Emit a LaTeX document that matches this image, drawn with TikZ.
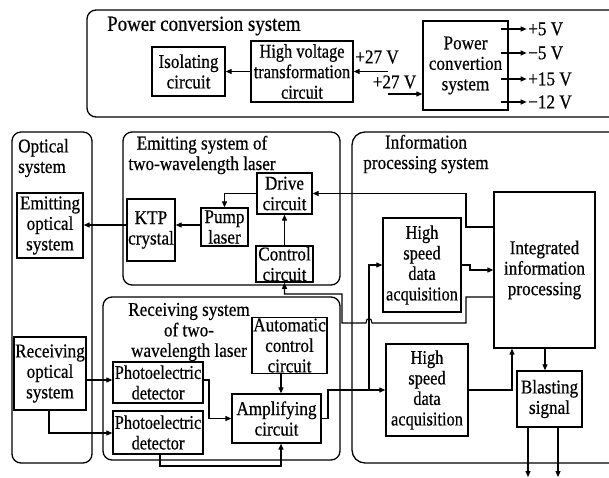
\documentclass[tikz,border=0pt]{standalone}
\usepackage{fontspec}
\setmainfont{Liberation Serif}[FakeStretch=0.88,FakeBold=0.5]
\newfontfamily\narrowfont{Liberation Serif}[FakeStretch=0.84,FakeBold=0.5]
\usetikzlibrary{arrows.meta}
\begin{document}
\begin{tikzpicture}[x=1pt,y=-1pt,
  every node/.style={font=\fontsize{19.5}{20.5}\selectfont},
  blk/.style={draw,line width=1.3pt,align=center,inner sep=1pt,rectangle},
  narrow/.style={font=\narrowfont\fontsize{19.5}{20.5}\selectfont},
  grp/.style={draw,line width=1.3pt,rounded corners=9pt},
  ttl/.style={align=center,inner sep=0pt,font=\fontsize{19.5}{20.5}\selectfont},
  lbl/.style={inner sep=0pt},
  con/.style={line width=1.1pt,-{Triangle[length=6pt,width=5pt]}},
  ln/.style={line width=1.1pt}
]
\clip (0,0) rectangle (609,478);
\fill[white] (0,0) rectangle (609,478);

% ---------------- power conversion system ----------------
\draw[grp] (87,10) rectangle (640,117);
\node[ttl,anchor=west,font=\fontsize{21.5}{22}\selectfont] (pcstitle) at (107,26) {Power conversion system};
\node[blk,minimum width=73pt,minimum height=49pt] (iso) at (188.5,71.5) {Isolating\\circuit};
\node[blk,narrow,minimum width=102pt,minimum height=61pt] (hv) at (302,71.5) {High voltage\\transformation\\circuit};
\node[blk,minimum width=85pt,minimum height=89pt] (pwr) at (465.5,65.5) {Power\\convertion\\system};
\node[lbl] (v27a) at (377,57) {+27 V};
\node[lbl] (v27b) at (394.5,82) {+27 V};
\coordinate (in1) at (388,71.5);
\coordinate (in2) at (388,94);
\draw[con] (hv.west) -- (iso.east);
\draw[con] (in1) -- (hv.east);
\draw[con] (in2) -- (pwr.west |- in2);
\foreach \yy/\t/\n in {29/+5 V/a, 53/−5 V/b, 79/+15 V/c, 102/−12 V/d} {
  \coordinate (o\n) at (0,\yy);
  \draw[con,shorten <=-8pt] (pwr.east |- o\n) -- ++(18,0)
    node[lbl,anchor=west,inner sep=1pt] (out\n) {\t};
}

% ---------------- optical system ----------------
\draw[grp] (12,132) rectangle (92,463);
\node[ttl,align=left,anchor=west] (opttitle) at (18,158) {Optical\\system};
\node[blk,minimum width=66pt,minimum height=65pt] (eopt) at (50,225.5) {Emitting\\optical\\system};
\node[blk,minimum width=72pt,minimum height=73pt] (ropt) at (50,373.5) {Receiving\\optical\\system};

% ---------------- emitting system ----------------
\draw[grp] (123,132) rectangle (340,285);
\node[ttl] (emtitle) at (202,155) {Emitting system of\\two-wavelength laser};
\node[blk,minimum width=48pt,minimum height=62pt] (ktp) at (151,230) {KTP\\crystal};
\node[blk,minimum width=47pt,minimum height=38pt] (pump) at (224.5,227) {Pump\\laser};
\node[blk,minimum width=55pt,minimum height=41pt] (drive) at (284.5,193.5) {Drive\\circuit};
\node[blk,minimum width=57pt,minimum height=36pt] (ctrl) at (284.5,264) {Control\\circuit};

% ---------------- receiving system ----------------
\draw[grp] (103,297) rectangle (340,460);
\node[ttl] (rctitle) at (189,332) {Receiving system\\of two-\\wavelength laser};
\node[blk,minimum width=75pt,minimum height=55pt] (auto) at (289.5,345.5) {Automatic\\control\\circuit};
\node[blk,narrow,minimum width=90pt,minimum height=41pt] (pd1) at (158,382.5) {Photoelectric\\detector};
\node[blk,narrow,minimum width=90pt,minimum height=43pt] (pd2) at (158,432.5) {Photoelectric\\detector};
\node[blk,minimum width=89pt,minimum height=49pt] (amp) at (276.5,418.5) {Amplifying\\circuit};

% ---------------- information processing system ----------------
\draw[grp,rounded corners=13pt] (352,132) rectangle (640,463);
\node[ttl] (iptitle) at (426,154) {Information\\processing system};
\node[blk,minimum width=101pt,minimum height=156pt] (integ) at (544.5,270) {Integrated\\information\\processing};
\node[blk,narrow,minimum width=78pt,minimum height=94pt] (hs1) at (422,265) {High\\speed\\data\\acquisition};
\node[blk,narrow,minimum width=82pt,minimum height=92pt] (hs2) at (427,390) {High\\speed\\data\\acquisition};
\node[blk,minimum width=65pt,minimum height=56pt] (blast) at (549.5,399) {Blasting\\signal};

% ---------------- connectors ----------------
% drive line from the integrated processor
\coordinate (d1) at (466,227);
\coordinate (d2) at (466,193.5);
\draw[con] (integ.west |- d1) -- (d1) -- (d2) -- (drive.east);
\draw[con] (drive.west) -| (pump.north);
\draw[con] (ctrl.north) -- (ctrl.north |- drive.south);
\coordinate (p1) at (0,225);
\draw[con] (pump.west |- p1) -- (ktp.east |- p1);
\draw[con] (ktp.west |- p1) -- (eopt.east |- p1);

% control line with a hop over the acquisition feed
\coordinate (k1) at (466,297);
\coordinate (k2) at (466,323);
\coordinate (k3) at (372,323);
\coordinate (k4) at (366,323);
\coordinate (k5) at (342,323);
\coordinate (k6) at (342,294);
\coordinate (k7) at (284.5,294);
\draw[con] (integ.west |- k1) -- (k1) -- (k2) -- (k3)
  .. controls (372,317) and (366,317) .. (k4) -- (k5) -- (k6) -- (k7) -- (ctrl.south);

% acquisition 1 to integrated processor
\coordinate (h1) at (470,265);
\coordinate (h2) at (470,270);
\draw[con] (hs1.east) -- (h1) -- (h2) -- (integ.west |- h2);

% amplifier output to both acquisition units
\coordinate (a1) at (328,418.5);
\coordinate (a2) at (328,390);
\coordinate (a3) at (369,390);
\coordinate (a4) at (369,265);
\draw[con] (amp.east) -- (a1) -- (a2) -- (hs2.west);
\draw[con] (a3) -- (a4) -- (hs1.west);

% acquisition 2 to integrated processor
\coordinate (b1) at (512,390);
\draw[con] (hs2.east) -- (b1) -- (integ.south -| b1);

% integrated processor to blasting signal and its outputs
\coordinate (s1) at (545,0);
\draw[con] (integ.south -| s1) -- (blast.north -| s1);
\coordinate (e1) at (528,477);
\coordinate (e2) at (558,477);
\draw[con] (blast.south -| e1) -- (e1);
\draw[con] (blast.south -| e2) -- (e2);

% receiving chain
\coordinate (r1) at (0,380);
\draw[con] (ropt.east |- r1) -- (pd1.west |- r1);
\coordinate (r2) at (49,433);
\draw[con] (ropt.south -| r2) -- (r2) -- (pd2.west |- r2);
\coordinate (r3) at (209,380);
\coordinate (r4) at (209,418.5);
\draw[con] (pd1.east |- r3) -- (r3) -- (r4) -- (amp.west);
\coordinate (r5) at (160,466);
\coordinate (r6) at (281,466);
\draw[con] (pd2.south -| r5) -- (r5) -- (r6) -- (amp.south -| r6);
\draw[con] (auto.south -| r6) -- (amp.north -| r6);
\end{tikzpicture}
\end{document}
